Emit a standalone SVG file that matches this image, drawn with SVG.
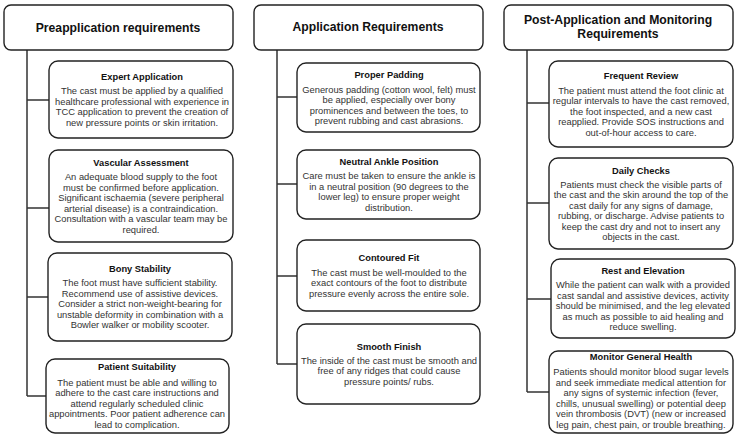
<svg xmlns="http://www.w3.org/2000/svg" width="738" height="437" viewBox="0 0 738 437">
<style>
.bg{fill:#ffffff}
.hdr{fill:#ffffff;stroke:#222;stroke-width:1.4}
.box{fill:#ffffff;stroke:#222;stroke-width:1.4}
.conn{fill:none;stroke:#333;stroke-width:1.5}
.h{font-family:"Liberation Sans",Arial,sans-serif;font-weight:bold;font-size:12.2px;fill:#111;text-anchor:middle}
.t{font-family:"Liberation Sans",Arial,sans-serif;font-weight:bold;font-size:9.3px;fill:#111;text-anchor:middle}
.b{font-family:"Liberation Sans",Arial,sans-serif;font-size:9.35px;fill:#333;text-anchor:middle}
</style>
<rect class="bg" x="0" y="0" width="738" height="437"/>
<g id="connectors">
<path class="conn" d="M27,50 V396 M27,100 H49 M27,208 H49 M27,297 H48 M27,396 H46"/>
<path class="conn" d="M277,50 V364 M277,97 H297 M277,184 H297 M277,276 H297 M277,364 H297"/>
<path class="conn" d="M527,50 V392 M527,103 H549 M527,203 H549 M527,299 H551 M527,392 H549"/>
</g>
<g id="h1">
<rect class="hdr" x="4" y="5" width="229" height="45" rx="7"/>
<text class="h" x="118" y="31.5">Preapplication requirements</text>
</g>
<g id="h2">
<rect class="hdr" x="254" y="5" width="229" height="45" rx="7"/>
<text class="h" x="368" y="31">Application Requirements</text>
</g>
<g id="h3">
<rect class="hdr" x="504" y="5" width="229" height="45" rx="7"/>
<text class="h" x="618" y="23.5">Post-Application and Monitoring</text>
<text class="h" x="618" y="37.5">Requirements</text>
</g>
<g id="expert">
<rect class="box" x="49" y="61" width="184" height="77" rx="9"/>
<text class="t" x="142" y="80">Expert Application</text>
<text class="b" x="142" y="94">The cast must be applied by a qualified</text>
<text class="b" x="142" y="104.5">healthcare professional with experience in</text>
<text class="b" x="142" y="115">TCC application to prevent the creation of</text>
<text class="b" x="142" y="125.5">new pressure points or skin irritation.</text>
</g>
<g id="vascular">
<rect class="box" x="49" y="150" width="184" height="92" rx="9"/>
<text class="t" x="141" y="166">Vascular Assessment</text>
<text class="b" x="141" y="180">An adequate blood supply to the foot</text>
<text class="b" x="141" y="190.5">must be confirmed before application.</text>
<text class="b" x="141" y="201">Significant ischaemia (severe peripheral</text>
<text class="b" x="141" y="211.5">arterial disease) is a contraindication.</text>
<text class="b" x="141" y="222">Consultation with a vascular team may be</text>
<text class="b" x="141" y="232.5">required.</text>
</g>
<g id="bony">
<rect class="box" x="48" y="253" width="184" height="88" rx="9"/>
<text class="t" x="140" y="272">Bony Stability</text>
<text class="b" x="140" y="286">The foot must have sufficient stability.</text>
<text class="b" x="140" y="296.5">Recommend use of assistive devices.</text>
<text class="b" x="140" y="307">Consider a strict non-weight-bearing for</text>
<text class="b" x="140" y="317.5">unstable deformity in combination with a</text>
<text class="b" x="140" y="328">Bowler walker or mobility scooter.</text>
</g>
<g id="patient">
<rect class="box" x="46" y="359" width="183" height="74" rx="9"/>
<text class="t" x="137" y="370">Patient Suitability</text>
<text class="b" x="137" y="385.5">The patient must be able and willing to</text>
<text class="b" x="137" y="396">adhere to the cast care instructions and</text>
<text class="b" x="137" y="406.5">attend regularly scheduled clinic</text>
<text class="b" x="137" y="417">appointments. Poor patient adherence can</text>
<text class="b" x="137" y="427.5">lead to complication.</text>
</g>
<g id="padding">
<rect class="box" x="297" y="63" width="183" height="69" rx="9"/>
<text class="t" x="389" y="77.5">Proper Padding</text>
<text class="b" x="389" y="92.5">Generous padding (cotton wool, felt) must</text>
<text class="b" x="389" y="103">be applied, especially over bony</text>
<text class="b" x="389" y="113.5">prominences and between the toes, to</text>
<text class="b" x="389" y="124">prevent rubbing and cast abrasions.</text>
</g>
<g id="ankle">
<rect class="box" x="297" y="150" width="183" height="69" rx="9"/>
<text class="t" x="389" y="165">Neutral Ankle Position</text>
<text class="b" x="389" y="179">Care must be taken to ensure the ankle is</text>
<text class="b" x="389" y="189.5">in a neutral position (90 degrees to the</text>
<text class="b" x="389" y="200">lower leg) to ensure proper weight</text>
<text class="b" x="389" y="210.5">distribution.</text>
</g>
<g id="contoured">
<rect class="box" x="297" y="240" width="183" height="71" rx="9"/>
<text class="t" x="389" y="261">Contoured Fit</text>
<text class="b" x="389" y="275.5">The cast must be well-moulded to the</text>
<text class="b" x="389" y="286">exact contours of the foot to distribute</text>
<text class="b" x="389" y="296.5">pressure evenly across the entire sole.</text>
</g>
<g id="smooth">
<rect class="box" x="297" y="324" width="183" height="80" rx="9"/>
<text class="t" x="389" y="349.5">Smooth Finish</text>
<text class="b" x="389" y="363.5">The inside of the cast must be smooth and</text>
<text class="b" x="389" y="374">free of any ridges that could cause</text>
<text class="b" x="389" y="384.5">pressure points/ rubs.</text>
</g>
<g id="review">
<rect class="box" x="549" y="61" width="184" height="86" rx="9"/>
<text class="t" x="641" y="79">Frequent Review</text>
<text class="b" x="641" y="93.5">The patient must attend the foot clinic at</text>
<text class="b" x="641" y="104">regular intervals to have the cast removed,</text>
<text class="b" x="641" y="114.5">the foot inspected, and a new cast</text>
<text class="b" x="641" y="125">reapplied. Provide SOS instructions and</text>
<text class="b" x="641" y="135.5">out-of-hour access to care.</text>
</g>
<g id="daily">
<rect class="box" x="549" y="158" width="184" height="91" rx="9"/>
<text class="t" x="641" y="173.5">Daily Checks</text>
<text class="b" x="641" y="187.5">Patients must check the visible parts of</text>
<text class="b" x="641" y="198">the cast and the skin around the top of the</text>
<text class="b" x="641" y="208.5">cast daily for any signs of damage,</text>
<text class="b" x="641" y="219">rubbing, or discharge. Advise patients to</text>
<text class="b" x="641" y="229.5">keep the cast dry and not to insert any</text>
<text class="b" x="641" y="240">objects in the cast.</text>
</g>
<g id="rest">
<rect class="box" x="551" y="259" width="184" height="79" rx="9"/>
<text class="t" x="643" y="274">Rest and Elevation</text>
<text class="b" x="643" y="288">While the patient can walk with a provided</text>
<text class="b" x="643" y="298.5">cast sandal and assistive devices, activity</text>
<text class="b" x="643" y="309">should be minimised, and the leg elevated</text>
<text class="b" x="643" y="319.5">as much as possible to aid healing and</text>
<text class="b" x="643" y="330">reduce swelling.</text>
</g>
<g id="health">
<rect class="box" x="549" y="351" width="184" height="82" rx="9"/>
<text class="t" x="641" y="360">Monitor General Health</text>
<text class="b" x="641" y="375">Patients should monitor blood sugar levels</text>
<text class="b" x="641" y="385.5">and seek immediate medical attention for</text>
<text class="b" x="641" y="396">any signs of systemic infection (fever,</text>
<text class="b" x="641" y="406.5">chills, unusual swelling) or potential deep</text>
<text class="b" x="641" y="417">vein thrombosis (DVT) (new or increased</text>
<text class="b" x="641" y="427.5">leg pain, chest pain, or trouble breathing.</text>
</g>
</svg>
